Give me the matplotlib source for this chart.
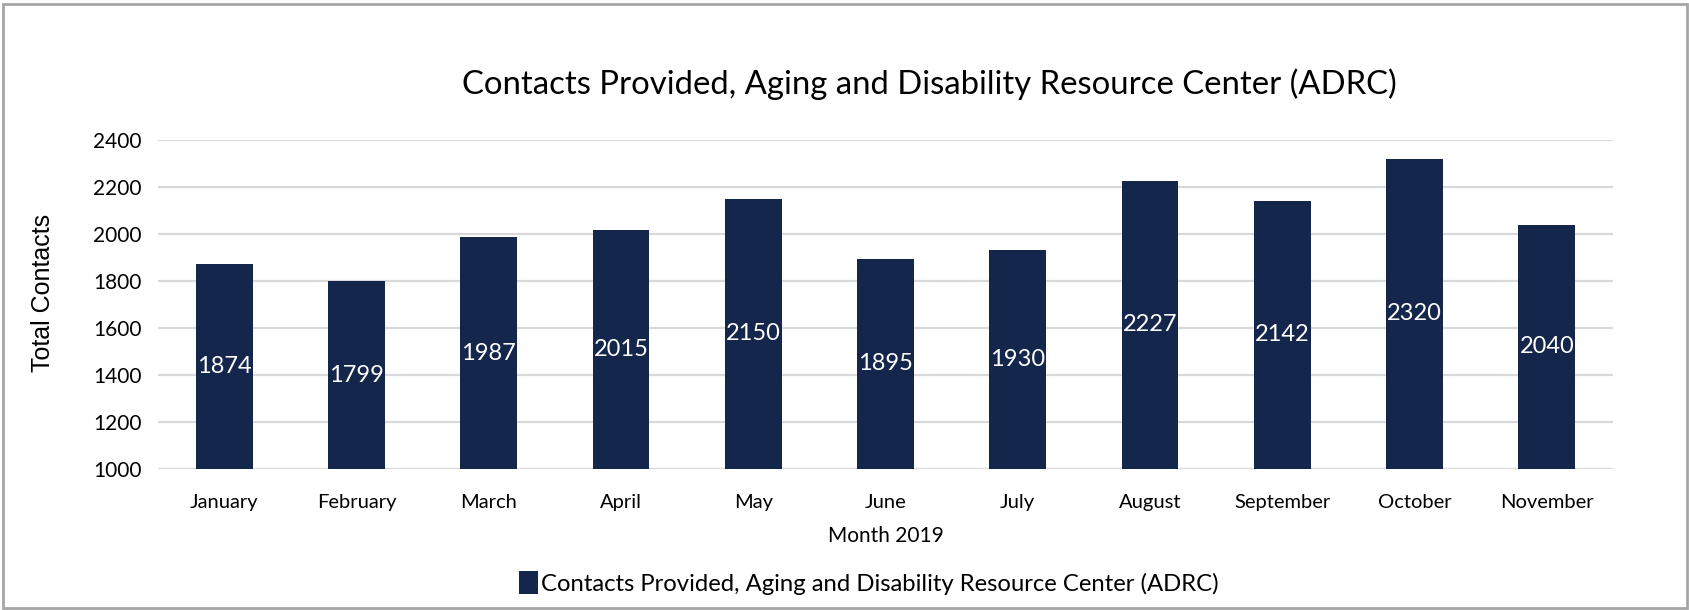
import matplotlib
matplotlib.use("Agg")
import matplotlib.pyplot as plt
from matplotlib.patches import Rectangle

months = ["January", "February", "March", "April", "May", "June", "July",
          "August", "September", "October", "November"]
contacts = [1874, 1799, 1987, 2015, 2150, 1895, 1930, 2227, 2142, 2320, 2040]
y_ticks = [1000, 1200, 1400, 1600, 1800, 2000, 2200, 2400]

title = "Contacts Provided, Aging and Disability Resource Center (ADRC)"
bar_color = "#14264B"
grid_color = "#D9D9D9"

plt.rcParams["font.family"] = ["Lato", "DejaVu Sans"]

fig = plt.figure(figsize=(16.9, 6.1), dpi=100)
ax = fig.add_axes([0.0935, 0.2311, 0.8609, 0.5394])

# bars with the value written in the middle
bars = ax.bar(range(len(months)), contacts, width=0.43, color=bar_color,
              label=title, zorder=3)
ax.bar_label(bars, labels=[str(v) for v in contacts], label_type="center",
             color="white", fontsize=17)

ax.set_xlim(-0.5, len(months) - 0.5)
ax.set_ylim(1000, 2400)
ax.set_yticks(y_ticks)
ax.set_xticks(range(len(months)))
ax.set_xticklabels(months, fontsize=14.5)
ax.tick_params(axis="y", labelsize=15, length=0, pad=12)
ax.tick_params(axis="x", length=0, pad=18)
ax.grid(axis="y", color=grid_color, linewidth=1.6, zorder=0)
ax.set_axisbelow(True)
for s in ax.spines.values():
    s.set_visible(False)

ax.set_xlabel("Month 2019", fontsize=15, labelpad=11)
ax.set_ylabel("Total Contacts", fontsize=18, family=["Liberation Sans", "DejaVu Sans"])
ax.yaxis.set_label_coords(-0.071, 0.535)

fig.text(0.5497, 0.862, title, ha="center", va="center", fontsize=23.7)

fig.legend(loc="center", bbox_to_anchor=(0.514, 0.044), frameon=False,
           fontsize=17.2, handlelength=0.8, handleheight=1.1, handletextpad=0.15)

fig.patches.append(Rectangle((0.002, 0.004), 0.996, 0.99, transform=fig.transFigure,
                             fill=False, edgecolor="#A6A6A6", linewidth=2))

fig.savefig("out.png", dpi=100)
